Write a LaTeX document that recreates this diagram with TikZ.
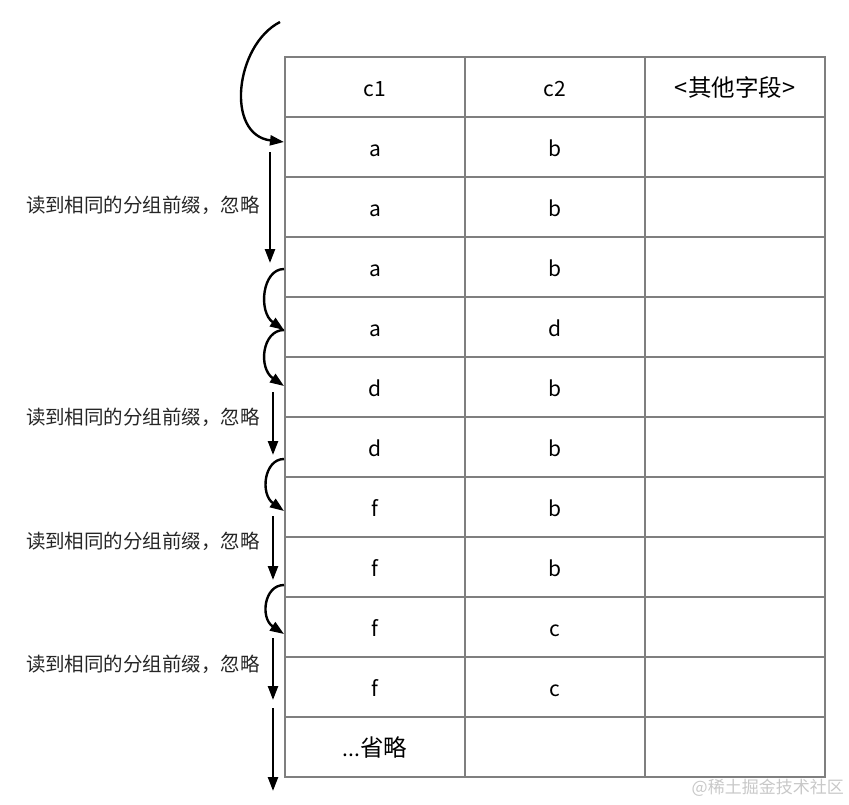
\documentclass[tikz,border=0pt]{standalone}
\usepackage{fontspec}
\setmainfont{Noto Sans CJK SC}
\usetikzlibrary{arrows.meta}
\definecolor{tablegray}{HTML}{7F7F7F}
\definecolor{notegray}{HTML}{262626}
\definecolor{markgray}{HTML}{C8C8C8}
\newcommand{\cjkbig}{\fontsize{23.5}{26}\selectfont}
\begin{document}
\begin{tikzpicture}[x=1pt,y=-1pt,
  cell/.style={draw=tablegray, line width=1.6pt, minimum width=180pt, minimum height=60pt,
    inner sep=0pt, text height=20pt, text depth=1pt, font=\fontsize{21}{24}\selectfont},
  flow/.style={line width=2.4pt, -{Triangle[length=14pt,width=10pt]}},
  note/.style={font=\fontsize{19.5}{22}\selectfont, text=notegray, inner sep=0pt}]
\useasboundingbox (0,0) rectangle (849,804);

% table
\foreach \r/\a/\b/\c in {0/c1/c2/{{\cjkbig <其他字段>}},1/a/b/{},2/a/b/{},3/a/b/{},4/a/d/{},5/d/b/{},
    6/d/b/{},7/f/b/{},8/f/b/{},9/f/c/{},10/f/c/{},11/{...{\cjkbig 省略}}/{}/{}}{
  \node[cell] (c-\r-1) at (375,87+60*\r) {\a};
  \node[cell] (c-\r-2) at (555,87+60*\r) {\b};
  \node[cell] (c-\r-3) at (735,87+60*\r) {\c};
}

% coordinates for arrows
\coordinate (s0) at (280,22);
\coordinate (t0) at (284,142);
\coordinate (s1) at (270,152);
\coordinate (t1) at (270,263);
\coordinate (s2) at (284,269);
\coordinate (t2) at (284,330);
\coordinate (t3) at (284,386);
\coordinate (s4) at (273,392);
\coordinate (t4) at (273,455);
\coordinate (s5) at (284,459);
\coordinate (t5) at (284,511);
\coordinate (s6) at (273,516);
\coordinate (t6) at (273,580);
\coordinate (s7) at (284,585);
\coordinate (t7) at (284,634);
\coordinate (s8) at (273,638);
\coordinate (t8) at (273,700);
\coordinate (s9) at (273,708);
\coordinate (t9) at (273,791);

\draw[flow] (s0) .. controls (235,45) and (225,135) .. (t0);
\draw[flow] (s1) -- (t1);
\draw[flow] (s2) .. controls (262,269) and (258,312) .. (t2);
\draw[flow] (t2) .. controls (262,330) and (258,368) .. (t3);
\draw[flow] (s4) -- (t4);
\draw[flow] (s5) .. controls (264,459) and (260,494) .. (t5);
\draw[flow] (s6) -- (t6);
\draw[flow] (s7) .. controls (264,585) and (260,618) .. (t7);
\draw[flow] (s8) -- (t8);
\draw[flow] (s9) -- (t9);

% notes
\node[note] (n1) at (143,205) {读到相同的分组前缀，忽略};
\node[note] (n2) at (143,417) {读到相同的分组前缀，忽略};
\node[note] (n3) at (143,541) {读到相同的分组前缀，忽略};
\node[note] (n4) at (143,664) {读到相同的分组前缀，忽略};

% watermark
\node[font=\fontsize{17}{20}\selectfont, text=markgray, inner sep=0pt, anchor=east] (wm) at (844,788) {@稀土掘金技术社区};
\end{tikzpicture}
\end{document}
